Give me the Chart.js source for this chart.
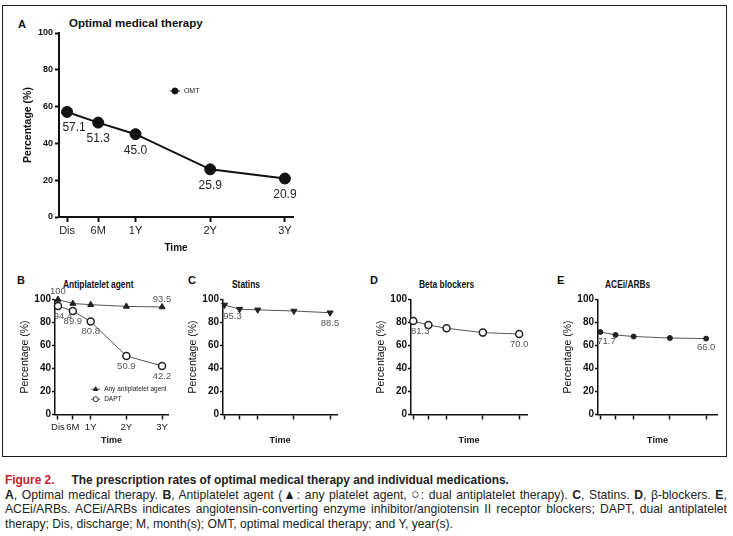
<!DOCTYPE html>
<html>
<head>
<meta charset="utf-8">
<script src="https://cdn.jsdelivr.net/npm/chart.js@4.4.1/dist/chart.umd.min.js"></script>
<style>
  body { margin: 0; width: 733px; height: 536px; background: #fff; position: relative; overflow: hidden;
         font-family: "Liberation Sans", Arial, sans-serif; color: #111; }
  .frame { position: absolute; left: 2px; top: 5px; width: 725px; height: 452px; box-sizing: border-box;
           border: 1.5px solid #1b1b1b; }
  .txt { position: absolute; white-space: nowrap; line-height: 1; transform: translateY(-50%); }
  .letter { font-weight: bold; font-size: 11px; }
  .ttlA { font-weight: bold; font-size: 11.5px; }
  .ttl { font-weight: bold; font-size: 10.5px; transform: translateY(-50%) scaleX(0.8); transform-origin: 0 50%; }
  canvas { position: absolute; }
  .cap { position: absolute; left: 5px; font-size: 13.5px; color: #222; }
  .cap div { width: 802px; height: 14.5px; line-height: 14.5px; text-align: justify; text-align-last: justify;
             white-space: nowrap; transform: scaleX(0.9); transform-origin: 0 0; }
  .cap div.last { text-align-last: left; }
  .red { color: #c8202f; }
  .sym { font-size: 15px; line-height: 10px; }
</style>
</head>
<body>
<div class="frame"></div>

<div class="txt letter" style="left:18px;top:24px">A</div>
<div class="txt ttlA" style="left:69px;top:24px">Optimal medical therapy</div>
<div class="txt letter" style="left:17px;top:280px">B</div>
<div class="txt ttl" style="left:63px;top:284px">Antiplatelet agent</div>
<div class="txt letter" style="left:188px;top:280px">C</div>
<div class="txt ttl" style="left:232px;top:284px">Statins</div>
<div class="txt letter" style="left:370px;top:280px">D</div>
<div class="txt ttl" style="left:419px;top:284px">Beta blockers</div>
<div class="txt letter" style="left:557px;top:280px">E</div>
<div class="txt ttl" style="left:605px;top:284px">ACEi/ARBs</div>

<canvas id="chartA" width="310" height="250" style="left:0px;top:20px"></canvas>
<canvas id="chartB" width="170" height="185" style="left:10px;top:270px"></canvas>
<canvas id="chartC" width="171" height="185" style="left:178px;top:270px"></canvas>
<canvas id="chartD" width="173" height="185" style="left:366px;top:270px"></canvas>
<canvas id="chartE" width="176" height="185" style="left:553px;top:270px"></canvas>

<div class="cap" style="top:473px">
  <div class="last" style="font-weight:bold;font-size:13.2px"><span class="red">Figure 2.</span><span style="margin-left:19px">The prescription rates of optimal medical therapy and individual medications.</span></div>
  <div><b>A</b>, Optimal medical therapy. <b>B</b>, Antiplatelet agent (▲: any platelet agent, <span class="sym">○</span>: dual antiplatelet therapy). <b>C</b>, Statins. <b>D</b>, β-blockers. <b>E</b>,</div>
  <div>ACEi/ARBs. ACEi/ARBs indicates angiotensin-converting enzyme inhibitor/angiotensin II receptor blockers; DAPT, dual antiplatelet</div>
  <div class="last">therapy; Dis, discharge; M, month(s); OMT, optimal medical therapy; and Y, year(s).</div>
</div>

<script>
// time points (months after discharge) and their tick labels
const timeLabels = ['Dis', '6M', '1Y', '2Y', '3Y'];
const timeMonths = [1, 6, 12, 24, 36];
const yTicks = [0, 20, 40, 60, 80, 100];

// prescription rates (%)
const omt = [57.1, 51.3, 45.0, 25.9, 20.9];
const anyAntiplatelet = [100, 96.5, 95.5, 94.0, 93.5];
const dapt = [94.4, 89.9, 80.8, 50.9, 42.2];
const statins = [95.3, 91.5, 91.0, 90.0, 88.5];
const betaBlockers = [81.3, 77.8, 75.0, 71.2, 70.0];
const aceiArbs = [71.7, 69.2, 67.8, 66.5, 66.0];

const SANS = '"Liberation Sans", Arial, sans-serif';

function pts(vals) { return vals.map((v, i) => ({ x: timeMonths[i], y: v })); }

// numbers printed next to the points
const valueLabels = {
  id: 'valueLabels',
  afterDatasetsDraw(chart, args, opts) {
    if (!opts.items) return;
    const ctx = chart.ctx;
    ctx.save();
    ctx.font = opts.font;
    ctx.fillStyle = opts.color;
    ctx.textAlign = 'center';
    ctx.textBaseline = 'middle';
    opts.items.forEach(it => {
      const meta = chart.getDatasetMeta(it.ds);
      const data = chart.data.datasets[it.ds].data;
      it.idx.forEach(i => {
        const p = meta.data[i];
        const v = data[i].y;
        const txt = v === 100 ? '100' : v.toFixed(1);
        ctx.fillText(txt, p.x + (i === 0 ? it.firstDx : 0), p.y + it.dy);
      });
    });
    ctx.restore();
  }
};

// small legend inside the plot area
const insetLegend = {
  id: 'insetLegend',
  afterDraw(chart, args, opts) {
    if (!opts.items) return;
    const { ctx, chartArea: a } = chart;
    const x0 = a.left + opts.x * (a.right - a.left);
    let y = a.top + opts.y * (a.bottom - a.top);
    ctx.save();
    opts.items.forEach(i => {
      const ds = chart.data.datasets[i];
      ctx.strokeStyle = ds.borderColor;
      ctx.lineWidth = 1;
      ctx.beginPath(); ctx.moveTo(x0, y); ctx.lineTo(x0 + opts.lineLen, y); ctx.stroke();
      ctx.fillStyle = ds.pointBackgroundColor;
      ctx.strokeStyle = ds.pointBorderColor;
      Chart.helpers.drawPoint(ctx, { pointStyle: ds.pointStyle, rotation: ds.pointRotation || 0,
        radius: opts.markerRadius, borderWidth: ds.pointBorderWidth }, x0 + opts.lineLen / 2, y);
      ctx.fillStyle = '#222';
      ctx.font = opts.font;
      ctx.textBaseline = 'middle';
      ctx.fillText(ds.label, x0 + opts.lineLen + opts.gap, y);
      y += opts.rowGap;
    });
    ctx.restore();
  }
};

function makePanel(id, p) {
  new Chart(document.getElementById(id), {
    type: 'line',
    data: { datasets: p.datasets },
    plugins: [valueLabels, insetLegend],
    options: {
      responsive: false,
      animation: false,
      devicePixelRatio: 1,
      layout: { padding: p.padding },
      plugins: {
        legend: { display: false },
        tooltip: { enabled: false },
        valueLabels: p.valueLabels,
        insetLegend: p.legend || {}
      },
      scales: {
        x: {
          type: 'linear',
          min: p.xMin, max: p.xMax,
          afterBuildTicks: s => { s.ticks = timeMonths.map(v => ({ value: v })); },
          afterFit: s => { s.height = p.xAxisH; s.paddingLeft = 0; s.paddingRight = 0; },
          ticks: {
            autoSkip: false, maxRotation: 0, padding: p.tickPad,
            color: '#222', font: p.xTickFont,
            callback: v => p.showXLabels ? timeLabels[timeMonths.indexOf(v)] : ''
          },
          grid: { drawOnChartArea: false, drawTicks: true, tickLength: 5, tickColor: '#111', tickWidth: p.axisW },
          border: { display: true, color: '#111', width: p.axisW },
          title: { display: true, text: 'Time', color: '#111', font: p.axisTitleFontX, padding: { top: 0, bottom: p.xTitlePad } }
        },
        y: {
          min: 0, max: 100,
          afterBuildTicks: s => { s.ticks = yTicks.map(v => ({ value: v })); },
          afterFit: s => { s.width = p.yAxisW; s.paddingTop = 0; s.paddingBottom = 0; },
          ticks: { padding: p.yTickPad, color: '#111', font: p.yTickFont },
          grid: { drawOnChartArea: false, drawTicks: true, tickLength: p.yTickLen, tickColor: '#111', tickWidth: p.axisW },
          border: { display: true, color: '#111', width: p.axisW },
          title: { display: true, text: 'Percentage (%)', color: '#111', font: p.axisTitleFontY, padding: { top: p.yTitlePad, bottom: 0 } }
        }
      }
    }
  });
}

function series(label, vals, style) {
  return Object.assign({
    label: label, data: pts(vals), clip: false, tension: 0,
    borderColor: '#555', borderWidth: 1, pointBorderColor: '#222', pointBackgroundColor: '#222',
    pointBorderWidth: 1, pointRadius: 3.5
  }, style);
}

// A - optimal medical therapy
makePanel('chartA', {
  datasets: [series('OMT', omt, { borderColor: '#111', borderWidth: 2, pointStyle: 'circle',
    pointRadius: 5.5, pointBackgroundColor: '#111', pointBorderColor: '#111' })],
  padding: { left: 0, right: 17, top: 13, bottom: 8 },
  xMin: -0.3, xMax: 37.3, xAxisH: 45, yAxisW: 59, axisW: 2, tickPad: 2, showXLabels: true,
  yTickLen: 4, yTickPad: 2,
  xTickFont: { family: SANS, size: 11 }, yTickFont: { family: SANS, size: 9, weight: 'bold' },
  axisTitleFontX: { family: SANS, size: 10, weight: 'bold' },
  axisTitleFontY: { family: SANS, size: 10.5, weight: 'bold' },
  xTitlePad: 8, yTitlePad: 21.5,
  valueLabels: { font: '12px ' + SANS, color: '#222', items: [{ ds: 0, idx: [0, 1, 2, 3, 4], dy: 16, firstDx: 7 }] },
  legend: { items: [0], x: 0.474, y: 0.315, lineLen: 10, markerRadius: 3, gap: 4, rowGap: 10, font: '7px ' + SANS }
});

const small = {
  padding: { left: 0, right: 12, top: 29.5, bottom: 5.5 },
  xAxisH: 35, yAxisW: 45, axisW: 1.5, tickPad: 2, yTickLen: 3, yTickPad: 1,
  xTickFont: { family: SANS, size: 9.5 }, yTickFont: { family: SANS, size: 10, weight: 'bold' },
  axisTitleFontX: { family: SANS, size: 9, weight: 'bold' },
  axisTitleFontY: { family: SANS, size: 10.5 },
  xTitlePad: 4, yTitlePad: 8.7
};
const smallLabelFont = '9.5px ' + SANS;

// B - antiplatelet agents
makePanel('chartB', Object.assign({}, small, {
  datasets: [
    series('Any antiplatelet agent', anyAntiplatelet, { pointStyle: 'triangle' }),
    series('DAPT', dapt, { pointStyle: 'circle', pointBackgroundColor: '#fff', pointBorderWidth: 1.5 })
  ],
  xMin: 0, xMax: 38, showXLabels: true,
  valueLabels: { font: smallLabelFont, color: '#555', items: [
    { ds: 0, idx: [0, 4], dy: -8, firstDx: 0 },
    { ds: 1, idx: [0, 1, 2, 3, 4], dy: 10, firstDx: 5 }
  ] },
  legend: { items: [0, 1], x: 0.32, y: 0.78, lineLen: 9, markerRadius: 2.5, gap: 4, rowGap: 10, font: '6.5px ' + SANS }
}));

// C - statins
makePanel('chartC', Object.assign({}, small, {
  datasets: [series('Statins', statins, { pointStyle: 'triangle', pointRotation: 180 })],
  xMin: 0.5, xMax: 38.3, showXLabels: false,
  valueLabels: { font: smallLabelFont, color: '#555', items: [{ ds: 0, idx: [0, 4], dy: 11, firstDx: 8 }] }
}));

// D - beta blockers
makePanel('chartD', Object.assign({}, small, {
  datasets: [series('Beta blockers', betaBlockers, { pointStyle: 'circle', pointBackgroundColor: '#fff', pointBorderWidth: 1.5 })],
  xMin: 0.25, xMax: 38.6, showXLabels: false,
  valueLabels: { font: smallLabelFont, color: '#555', items: [{ ds: 0, idx: [0, 4], dy: 10, firstDx: 7 }] }
}));

// E - ACEi/ARBs
makePanel('chartE', Object.assign({}, small, {
  datasets: [series('ACEi/ARBs', aceiArbs, { pointStyle: 'circle', pointRadius: 2.5 })],
  xMin: 0.2, xMax: 39.6, showXLabels: false,
  valueLabels: { font: smallLabelFont, color: '#555', items: [{ ds: 0, idx: [0, 4], dy: 9, firstDx: 6 }] }
}));
</script>
</body>
</html>
